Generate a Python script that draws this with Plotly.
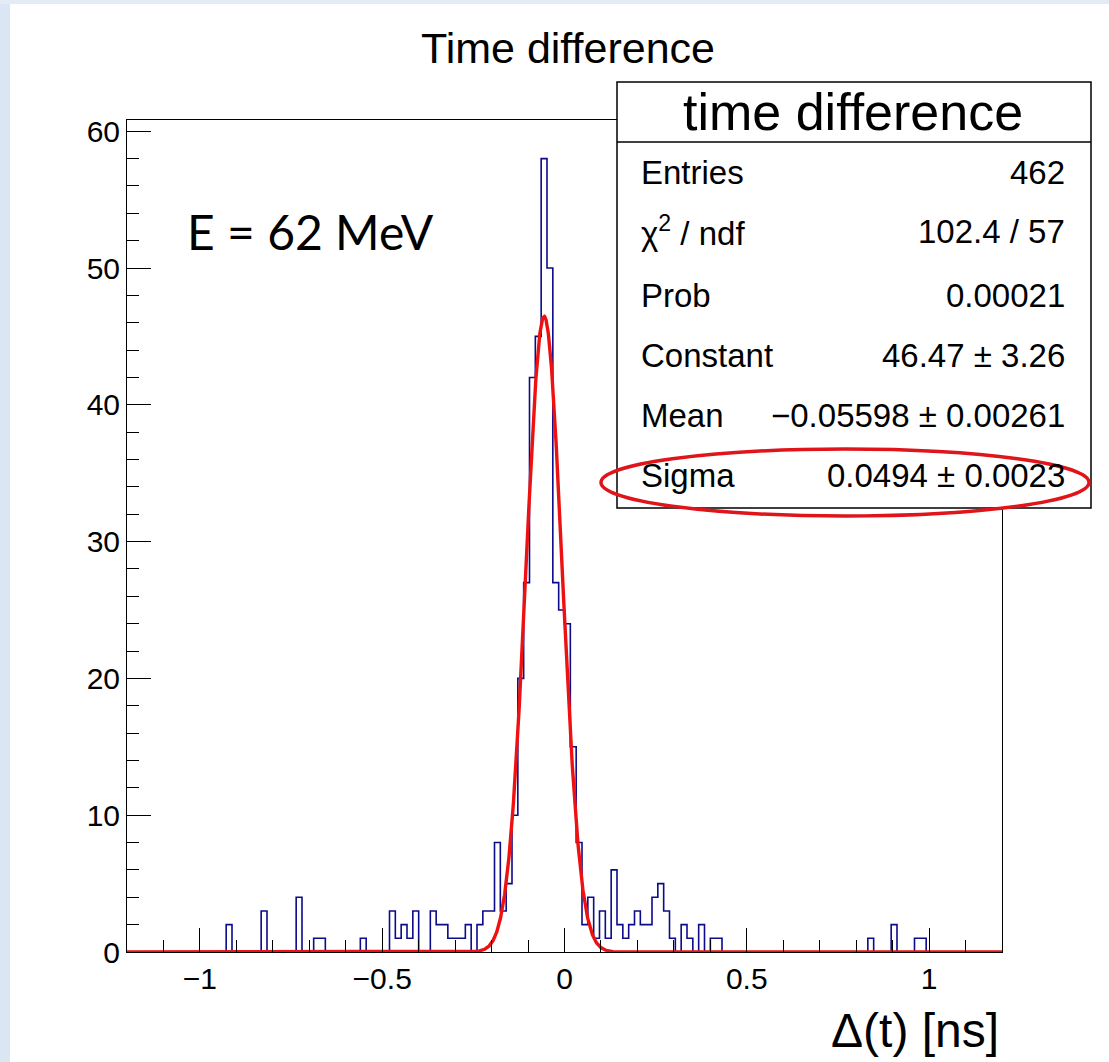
import numpy as np
import plotly.graph_objects as go

# ---------------- data ----------------
x_min, x_max, n_bins = -1.2, 1.2, 150

# non-empty bins: centre (ns) and content
bin_centers = [-0.92, -0.824, -0.728, -0.68, -0.664, -0.552,
               -0.472, -0.456, -0.44, -0.424, -0.408,
               -0.36, -0.344, -0.328, -0.312, -0.296, -0.28, -0.264, -0.232, -0.216,
               -0.2, -0.184, -0.168, -0.152, -0.136, -0.12, -0.104, -0.088, -0.072,
               -0.056, -0.04, -0.024, -0.008, 0.008, 0.024, 0.04, 0.056, 0.072,
               0.088, 0.104, 0.12, 0.136, 0.152, 0.168, 0.184, 0.2, 0.216, 0.232,
               0.248, 0.264, 0.28, 0.296, 0.328, 0.344, 0.376, 0.408, 0.424,
               0.84, 0.904, 0.968, 0.984]
bin_counts = [2, 3, 4, 1, 1, 1,
              3, 1, 2, 1, 3,
              3, 2, 2, 1, 1, 1, 2, 2, 3,
              3, 8, 3, 5, 10, 20, 27, 42, 45,
              58, 50, 27, 25, 24, 15, 8, 2, 4,
              1, 3, 1, 6, 2, 1, 2, 3, 2, 2,
              4, 5, 3, 1, 2, 1, 2, 1, 1,
              1, 2, 1, 1]

fit_constant, fit_mean, fit_sigma = 46.47, -0.05598, 0.0494

stats_title = "time difference"
stats_labels = ["Entries", "χ<sup>2</sup> / ndf", "Prob", "Constant", "Mean", "Sigma"]
stats_values = ["462", "102.4 / 57", "0.00021", "46.47 ± 3.26",
                "\u22120.05598 ± 0.00261", "0.0494 ± 0.0023"]

# ---------------- build histogram outline ----------------
width = (x_max - x_min) / n_bins
counts = np.zeros(n_bins)
for c, n in zip(bin_centers, bin_counts):
    k = int(round((c - x_min) / width - 0.5))
    counts[k] = n
edges = x_min + width * np.arange(n_bins + 1)
hx = np.concatenate([[edges[0]], edges])
hy = np.concatenate([[0.0], counts, [counts[-1]]])

xf = np.linspace(x_min, x_max, 3001)
yf = fit_constant * np.exp(-0.5 * ((xf - fit_mean) / fit_sigma) ** 2)

# ---------------- pixel helpers for layout ----------------
W, H = 1109, 1062
L, R, T, B = 127, 1002, 120, 952


def px(x):
    return (x - L) / (R - L)


def py(y):
    return (B - y) / (B - T)


FONT = "Liberation Sans, Arial, Helvetica, sans-serif"

fig = go.Figure()
fig.add_trace(go.Scatter(x=hx, y=hy, mode="lines", line=dict(color="#0b0b8c", width=1.6, shape="hv"),
                         hoverinfo="skip", showlegend=False))
fig.add_trace(go.Scatter(x=xf, y=yf, mode="lines", line=dict(color="#ee1111", width=3.4),
                         hoverinfo="skip", showlegend=False))

shapes = []
# slide background strips
shapes.append(dict(type="rect", xref="paper", yref="paper", x0=px(0), x1=px(10), y0=py(W * 2), y1=py(0),
                   fillcolor="#dbe6f4", line=dict(width=0), layer="below"))
shapes.append(dict(type="rect", xref="paper", yref="paper", x0=px(0), x1=px(W), y0=py(4), y1=py(0),
                   fillcolor="#e3ebf6", line=dict(width=0), layer="below"))
# stats box
shapes.append(dict(type="rect", xref="paper", yref="paper", x0=px(617), x1=px(1091), y0=py(508), y1=py(82),
                   fillcolor="white", line=dict(color="black", width=1.5), layer="above"))
shapes.append(dict(type="line", xref="paper", yref="paper", x0=px(617), x1=px(1091), y0=py(142), y1=py(142),
                   line=dict(color="black", width=1.5), layer="above"))
# red ellipse
shapes.append(dict(type="circle", xref="paper", yref="paper", x0=px(601), x1=px(1089), y0=py(516), y1=py(449),
                   line=dict(color="#e0141b", width=3.5), fillcolor="rgba(0,0,0,0)", layer="above"))

ann = []
ann.append(dict(text="Time difference", x=px(568), y=py(48), xref="paper", yref="paper",
                showarrow=False, font=dict(family=FONT, size=43, color="black"), xanchor="center", yanchor="middle"))
ann.append(dict(text="E = 62 MeV", x=px(185), y=py(231), xref="paper", yref="paper",
                showarrow=False, font=dict(family="Lato, Open Sans, sans-serif", size=48, color="black"),
                xanchor="left", yanchor="middle"))
ann.append(dict(text=stats_title, x=px(853), y=py(112), xref="paper", yref="paper",
                showarrow=False, font=dict(family=FONT, size=52, color="black"), xanchor="center", yanchor="middle"))
row_y = [172, 231, 295, 355, 416, 475]
for lab, val, yy in zip(stats_labels, stats_values, row_y):
    ann.append(dict(text=lab, x=px(639), y=py(yy), xref="paper", yref="paper", showarrow=False,
                    font=dict(family=FONT, size=33, color="black"), xanchor="left", yanchor="middle"))
    ann.append(dict(text=val, x=px(1067), y=py(yy), xref="paper", yref="paper", showarrow=False,
                    font=dict(family=FONT, size=33, color="black"), xanchor="right", yanchor="middle"))
ann.append(dict(text="Δ(t) [ns]", x=px(1001), y=py(1030), xref="paper", yref="paper",
                showarrow=False, font=dict(family=FONT, size=48, color="black"), xanchor="right", yanchor="middle"))

fig.update_layout(
    width=W, height=H,
    margin=dict(l=L, r=W - R, t=T, b=H - B),
    plot_bgcolor="white", paper_bgcolor="white",
    shapes=shapes, annotations=ann, showlegend=False,
    xaxis=dict(range=[x_min, x_max], tick0=0, dtick=0.5, ticks="inside", ticklen=24, tickwidth=1,
               tickcolor="black", showline=True, linecolor="black", linewidth=1, mirror=True,
               showgrid=False, zeroline=False,
               minor=dict(dtick=0.1, ticks="inside", ticklen=12, tickwidth=1, tickcolor="black", showgrid=False),
               tickfont=dict(family=FONT, size=30, color="black")),
    yaxis=dict(range=[0, 60.82], tick0=0, dtick=10, ticks="inside", ticklen=24, tickwidth=1,
               tickcolor="black", showline=True, linecolor="black", linewidth=1, mirror=True,
               showgrid=False, zeroline=False,
               minor=dict(dtick=2, ticks="inside", ticklen=12, tickwidth=1, tickcolor="black", showgrid=False),
               tickfont=dict(family=FONT, size=30, color="black")),
)

fig.write_html("out.html")
